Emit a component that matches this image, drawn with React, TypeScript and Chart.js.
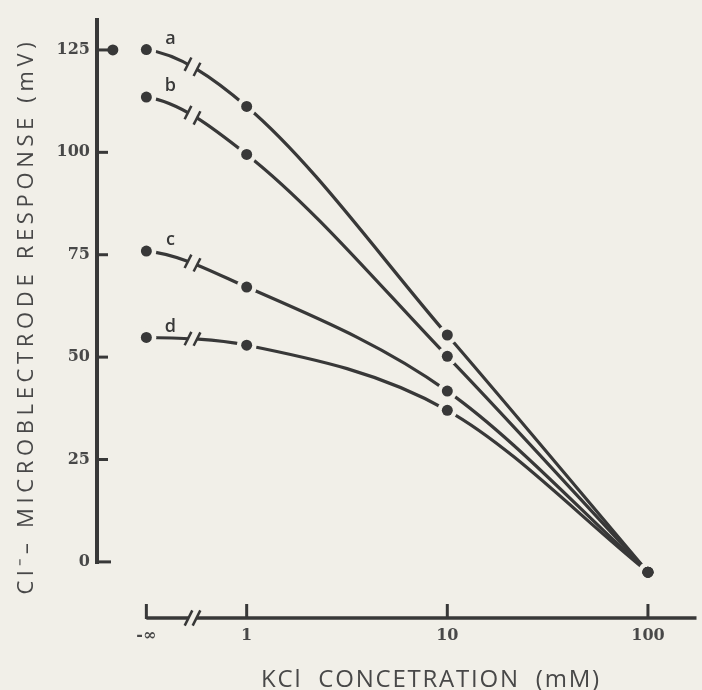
import React, { useEffect, useRef } from 'react';
import { Chart, registerables } from 'chart.js';

Chart.register(...registerables);

// ---------------- data ----------------
const concentrationsMM = [0, 1, 10, 100]; // 0 stands for "-∞" on the log axis
const xTickLabels = ['-∞', '1', '10', '100'];
const seriesNames = ['a', 'b', 'c', 'd'];
const seriesA = [125.1, 111.2, 55.4, -2.5];
const seriesB = [113.5, 99.5, 50.2, -2.5];
const seriesC = [75.9, 67.1, 41.7, -2.5];
const seriesD = [54.8, 52.9, 37.0, -2.5];
const yTickValues = [0, 25, 50, 75, 100, 125];
const axisMarker = { x: -0.667, y: 125 };

const xTitle = 'KCl  CONCETRATION  (mM)';
const yTitle = 'Cl⁻– MICROBLECTRODE RESPONSE (mV)';

// ---------------- style ----------------
const BG = '#f1efe8';
const INK = '#383838';
const TEXT = '#484848';
const NEG_INF_POS = -0.5;
const BREAK_POS = -0.27;
const logPos = (c: number) => (c <= 0 ? NEG_INF_POS : Math.log10(c));
const xTickValues = concentrationsMM.map(logPos);
const allSeries = [seriesA, seriesB, seriesC, seriesD];

function drawBreakMarks(ctx: CanvasRenderingContext2D, pA: { x: number; y: number }, pB: { x: number; y: number }, len: number, lw: number) {
  ctx.save();
  ctx.fillStyle = BG;
  ctx.beginPath();
  ctx.moveTo(pA.x, pA.y - 6);
  ctx.lineTo(pB.x, pB.y - 6);
  ctx.lineTo(pB.x, pB.y + 6);
  ctx.lineTo(pA.x, pA.y + 6);
  ctx.closePath();
  ctx.fill();
  ctx.strokeStyle = INK;
  ctx.lineWidth = lw;
  ctx.lineCap = 'butt';
  const dx = 0.45, dy = -0.89;
  [pA, pB].forEach((p) => {
    ctx.beginPath();
    ctx.moveTo(p.x - (dx * len) / 2, p.y - (dy * len) / 2);
    ctx.lineTo(p.x + (dx * len) / 2, p.y + (dy * len) / 2);
    ctx.stroke();
  });
  ctx.restore();
}

const handDrawnPlugin = {
  id: 'handDrawn',
  beforeDatasetsDraw(chart: any) {
    const ctx: CanvasRenderingContext2D = chart.ctx;
    const xs = chart.scales.x;
    const ys = chart.scales.y;
    const area = chart.chartArea;

    ctx.save();
    ctx.strokeStyle = INK;
    ctx.lineCap = 'butt';

    // ---- y axis ----
    const y0 = ys.getPixelForValue(0);
    ctx.lineWidth = 4;
    ctx.beginPath();
    ctx.moveTo(area.left, area.top);
    ctx.lineTo(area.left, y0 + 2);
    ctx.stroke();
    ctx.lineWidth = 3;
    yTickValues.forEach((v) => {
      const py = ys.getPixelForValue(v);
      ctx.beginPath();
      ctx.moveTo(area.left, py);
      ctx.lineTo(area.left + (v === 0 ? 14 : 11), py);
      ctx.stroke();
    });

    // ---- x axis ----
    const xb = area.bottom;
    const xStart = xs.getPixelForValue(xTickValues[0]);
    ctx.lineWidth = 3.5;
    ctx.beginPath();
    ctx.moveTo(xStart, xb);
    ctx.lineTo(area.right, xb);
    ctx.stroke();
    ctx.lineWidth = 3;
    xTickValues.forEach((v) => {
      const px = xs.getPixelForValue(v);
      ctx.beginPath();
      ctx.moveTo(px, xb + 1);
      ctx.lineTo(px, xb - 14);
      ctx.stroke();
    });
    const axBreak = xs.getPixelForValue(BREAK_POS);
    drawBreakMarks(ctx, { x: axBreak - 4, y: xb }, { x: axBreak + 4, y: xb }, 17, 2.5);

    // ---- curves ----
    const pxX = concentrationsMM.map((c) => xs.getPixelForValue(logPos(c)));
    allSeries.forEach((vals) => {
      const P = vals.map((v, i) => ({ x: pxX[i], y: ys.getPixelForValue(v) }));
      const s: number[] = [];
      for (let i = 0; i < P.length - 1; i++) s.push((P[i + 1].y - P[i].y) / (P[i + 1].x - P[i].x));
      const t: number[] = P.map((_, i) => {
        if (i === 0) return 0.25 * s[0];
        if (i === P.length - 1) return s[s.length - 1];
        return (s[i - 1] + s[i]) / 2;
      });
      ctx.lineWidth = 3.2;
      ctx.strokeStyle = INK;
      ctx.beginPath();
      ctx.moveTo(P[0].x, P[0].y);
      for (let i = 0; i < P.length - 1; i++) {
        const dx = P[i + 1].x - P[i].x;
        ctx.bezierCurveTo(
          P[i].x + dx / 3, P[i].y + (t[i] * dx) / 3,
          P[i + 1].x - dx / 3, P[i + 1].y - (t[i + 1] * dx) / 3,
          P[i + 1].x, P[i + 1].y
        );
      }
      ctx.stroke();

      // break on first segment
      const dx0 = P[1].x - P[0].x;
      const c1 = P[0].y + (t[0] * dx0) / 3;
      const c2 = P[1].y - (t[1] * dx0) / 3;
      const yAt = (px: number) => {
        const u = (px - P[0].x) / dx0;
        const m = 1 - u;
        return m * m * m * P[0].y + 3 * m * m * u * c1 + 3 * m * u * u * c2 + u * u * u * P[1].y;
      };
      const bx = xs.getPixelForValue(BREAK_POS);
      const pA = { x: bx - 4.5, y: yAt(bx - 4.5) };
      const pB = { x: bx + 4.5, y: yAt(bx + 4.5) };
      drawBreakMarks(ctx, pA, pB, 15, 2.5);

      // gaps around points
      ctx.fillStyle = BG;
      P.forEach((p) => {
        ctx.beginPath();
        ctx.arc(p.x, p.y, 10, 0, Math.PI * 2);
        ctx.fill();
      });
    });
    ctx.restore();
  },
  afterDatasetsDraw(chart: any) {
    const ctx: CanvasRenderingContext2D = chart.ctx;
    const xs = chart.scales.x;
    const ys = chart.scales.y;
    ctx.save();
    ctx.fillStyle = INK;
    ctx.font = '600 18px "Open Sans", sans-serif';
    ctx.textAlign = 'center';
    ctx.textBaseline = 'middle';
    allSeries.forEach((vals, i) => {
      const px = xs.getPixelForValue(logPos(concentrationsMM[0]));
      const py = ys.getPixelForValue(vals[0]);
      ctx.fillText(seriesNames[i], px + 24, py - 11);
    });
    ctx.restore();
  },
  afterDraw(chart: any) {
    const ctx: any = chart.ctx;
    ctx.save();
    ctx.fillStyle = TEXT;
    // x title
    ctx.font = '500 24px "Open Sans", sans-serif';
    ctx.letterSpacing = '0px';
    let w = ctx.measureText(xTitle).width;
    ctx.letterSpacing = ((338 - w) / (xTitle.length - 1)).toFixed(2) + 'px';
    ctx.textAlign = 'center';
    ctx.textBaseline = 'alphabetic';
    ctx.fillText(xTitle, 431, 687);
    // y title
    ctx.font = '500 22px "Open Sans", sans-serif';
    ctx.letterSpacing = '0px';
    w = ctx.measureText(yTitle).width;
    ctx.letterSpacing = ((552 - w) / (yTitle.length - 1)).toFixed(2) + 'px';
    ctx.translate(33, 316);
    ctx.rotate(-Math.PI / 2);
    ctx.textAlign = 'center';
    ctx.fillText(yTitle, 0, 0);
    ctx.restore();
  },
};

export default function App() {
  const ref = useRef<HTMLCanvasElement | null>(null);
  useEffect(() => {
    if (!ref.current) return;
    const tickFont = { family: '"DejaVu Serif", serif', size: 16, weight: 'bold' as const };
    const chart = new Chart(ref.current, {
      type: 'scatter',
      data: {
        datasets: [
          ...allSeries.map((vals, i) => ({
            label: seriesNames[i],
            data: vals.map((v, j) => ({ x: logPos(concentrationsMM[j]), y: v })),
            showLine: false,
            pointRadius: 5.5,
            pointBackgroundColor: INK,
            pointBorderWidth: 0,
          })),
          {
            label: 'axis',
            data: [axisMarker],
            showLine: false,
            pointRadius: 5.5,
            pointBackgroundColor: INK,
            pointBorderWidth: 0,
          },
        ],
      },
      options: {
        responsive: false,
        devicePixelRatio: 1,
        animation: false,
        events: [],
        layout: { padding: { top: 18, left: 0, right: 0, bottom: 0 } },
        plugins: { legend: { display: false }, tooltip: { enabled: false } },
        scales: {
          x: {
            type: 'linear',
            min: -0.746,
            max: 2.242,
            afterFit: (s: any) => { s.height = 72; },
            afterBuildTicks: (s: any) => { s.ticks = xTickValues.map((v) => ({ value: v })); },
            ticks: {
              callback: (_v: any, i: number) => xTickLabels[i],
              padding: 8,
              font: tickFont,
              color: TEXT,
              maxRotation: 0,
              autoSkip: false,
            },
            grid: { display: false, drawTicks: false },
            border: { display: false },
          },
          y: {
            type: 'linear',
            min: -13.7,
            max: 132.8,
            afterFit: (s: any) => { s.width = 97; },
            afterBuildTicks: (s: any) => { s.ticks = yTickValues.map((v) => ({ value: v })); },
            ticks: {
              callback: (v: any) => String(v),
              padding: 7,
              font: tickFont,
              color: TEXT,
              autoSkip: false,
            },
            grid: { display: false, drawTicks: false },
            border: { display: false },
          },
        },
      },
      plugins: [handDrawnPlugin],
    } as any);
    return () => chart.destroy();
  }, []);
  return (
    <div style={{ position: 'fixed', left: 0, top: 0, width: 702, height: 690, background: BG }}>
      <canvas ref={ref} width={702} height={690} style={{ display: 'block' }} />
    </div>
  );
}
